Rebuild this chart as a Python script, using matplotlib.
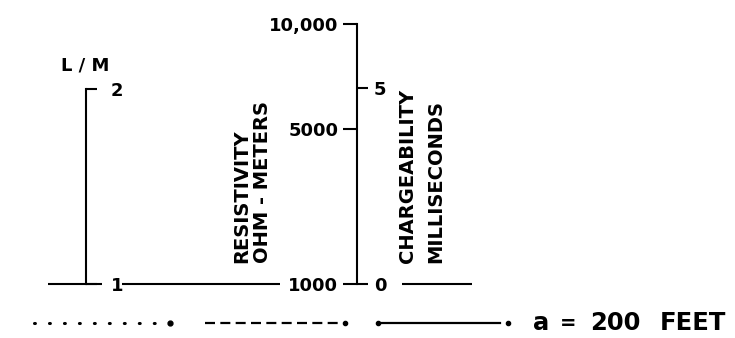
import matplotlib
matplotlib.use("Agg")
import matplotlib.pyplot as plt
import numpy as np

# ---------------- data ----------------
lm_ticks = [1, 2]
lm_labels = ["1", "2"]
res_ticks = [1000, 5000, 10000]
res_labels = ["1000", "5000", "10,000"]
chg_ticks = [0, 5]
chg_labels = ["0", "5"]
lm_title = "L / M"
res_titles = ["RESISTIVITY", "OHM - METERS"]
chg_titles = ["CHARGEABILITY", "MILLISECONDS"]
legend_parts = ["a", "=", "200", "FEET"]

# ---------------- layout ----------------
W, H = 735, 338
fig = plt.figure(figsize=(W / 100, H / 100), dpi=100)
LW = 1.5
FS = 13
FONT = dict(family="DejaVu Sans", weight="bold")


def fx(x):
    return x / W


def fy(y):
    return 1 - y / H


def vaxis(x_px, y_bot, y_top):
    w = 0.0001
    ax = fig.add_axes([fx(x_px), fy(y_bot), w, (y_bot - y_top) / H])
    ax.patch.set_visible(False)
    ax.set_xticks([])
    for s in ax.spines.values():
        s.set_visible(False)
    return ax


# overlay in pixel units for decorative baseline and legend samples
ov = fig.add_axes([0, 0, 1, 1])
ov.set_xlim(0, W)
ov.set_ylim(H, 0)
ov.axis("off")

BASE_Y = 284
LEG_Y = 323
for x0, x1 in [(48, 102), (122, 280), (402, 472)]:
    ov.plot([x0, x1], [BASE_Y, BASE_Y], color="black", lw=LW, solid_capstyle="butt")

# legend samples
ov.plot([34, 166], [LEG_Y, LEG_Y], color="black", lw=2.2,
        linestyle=(0, (0.3, 4.6)), dash_capstyle="round")
ov.plot([170], [LEG_Y], marker="o", ms=3.5, color="black")
ov.plot([205, 340], [LEG_Y, LEG_Y], color="black", lw=1.6,
        linestyle=(0, (4.5, 2.4)))
ov.plot([345], [LEG_Y], marker="o", ms=3, color="black")
ov.plot([380, 500], [LEG_Y, LEG_Y], color="black", lw=1.6)
ov.plot([378, 508], [LEG_Y, LEG_Y], "o", ms=3, color="black")

# L/M axis
ax_lm = vaxis(86, BASE_Y, 89)
ax_lm.spines["left"].set_visible(True)
ax_lm.spines["left"].set_linewidth(LW)
ax_lm.set_ylim(1, 2)
ax_lm.yaxis.set_ticks_position("right")
ax_lm.set_yticks(lm_ticks, lm_labels, **FONT, fontsize=FS)
ax_lm.tick_params(axis="y", direction="out", length=8, width=LW, pad=10)

# Resistivity axis (compressed non-linear scale)
ax_r = vaxis(357, BASE_Y, 24)
ax_r.spines["left"].set_visible(True)
ax_r.spines["left"].set_linewidth(LW)
ax_r.set_yscale("function", functions=(lambda v: np.power(np.abs(v), 0.4),
                                       lambda v: np.power(np.abs(v), 2.5)))
ax_r.set_ylim(1000, 10000)
ax_r.yaxis.set_ticks_position("left")
ax_r.set_yticks(res_ticks, res_labels, **FONT, fontsize=FS)
ax_r.yaxis.set_minor_locator(matplotlib.ticker.NullLocator())
ax_r.tick_params(axis="y", direction="out", length=10, width=LW, pad=3.5)

# Chargeability axis
ax_c = vaxis(357, BASE_Y, 88)
ax_c.set_ylim(0, 5)
ax_c.yaxis.set_ticks_position("right")
ax_c.set_yticks(chg_ticks, chg_labels, **FONT, fontsize=FS)
ax_c.tick_params(axis="y", direction="out", length=8, width=LW, pad=4)

# titles
fig.text(fx(85), fy(66), lm_title, ha="center", va="center", fontsize=FS, **FONT)
for x, s in zip([242, 263], res_titles):
    fig.text(fx(x), fy(263), s, rotation=90, rotation_mode="anchor",
             ha="left", va="center", fontsize=14, **FONT)
for x, s in zip([407, 436], chg_titles):
    fig.text(fx(x), fy(263), s, rotation=90, rotation_mode="anchor",
             ha="left", va="center", fontsize=14, **FONT)

# scale note
for x, s, fs, ha in zip([533, 568, 590, 660], legend_parts,
                        [17.5, 14, 17.5, 17.5], ["left", "center", "left", "left"]):
    fig.text(fx(x), fy(LEG_Y), s, ha=ha, va="center", fontsize=fs, **FONT)

fig.savefig("out.png", dpi=100, facecolor="white")
